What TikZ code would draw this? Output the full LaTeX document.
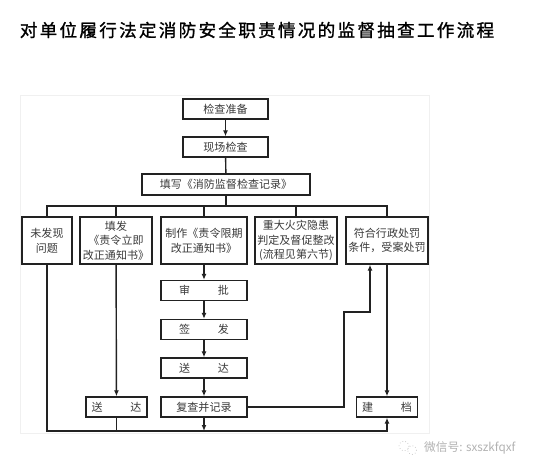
\documentclass[tikz,border=0pt]{standalone}
\usepackage{fontspec}
\usetikzlibrary{arrows.meta}
\newfontfamily\cjk{Noto Sans CJK SC}
\newfontfamily\titlefont[LetterSpace=13,FakeBold=1.2]{Noto Sans CJK SC}
\definecolor{ink}{HTML}{222222}
\definecolor{txt}{HTML}{3A3A3A}

\tikzset{
  box/.style={draw=ink,line width=1.2pt,align=center,inner sep=1pt,
    text=txt,font=\cjk\fontsize{9.4}{12.5}\selectfont},
  wide/.style={box,minimum width=2.55cm,minimum height=0.6cm},
  tall/.style={box,minimum height=1.41cm},
  line/.style={draw=ink,line width=1.2pt},
  ->/.style={line,-{Latex[length=1.8mm,width=1.5mm]}}
}

\begin{document}
\begin{tikzpicture}[x=0.03cm,y=-0.03cm]
    \useasboundingbox (0,0) rectangle (548,472);
    \fill[white] (0,0) rectangle (548,472);
    \draw[gray!12,line width=0.4pt] (20,95) rectangle (429,433);
    \node (T) at (257,30) {\titlefont\fontsize{15}{18}\selectfont 对单位履行法定消防安全职责情况的监督抽查工作流程};
    % top chain
    \node[wide] (P) at (225.5,109) {检查准备};
    \node[wide] (S) at (225.5,147) {现场检查};
    \node[box,minimum width=5.04cm,minimum height=0.63cm] (R) at (226,184.5) {填写《消防监督检查记录》};
    % five cases
    \node[tall,minimum width=1.5cm]  (N1) at (47,240.5)  {未发现\\问题};
    \node[tall,minimum width=2.16cm] (N2) at (116,240.5) {填发\\《责令立即\\改正通知书》};
    \node[tall,minimum width=2.58cm] (N3) at (204,240.5) {制作《责令限期\\改正通知书》};
    \node[tall,minimum width=2.46cm] (N4) at (296,240.5) {重大火灾隐患\\判定及督促整改\\(流程见第六节)};
    \node[tall,minimum width=2.46cm] (N5) at (387,240.5) {符合行政处罚\\条件，受案处罚};
    % middle column
    \node[wide,minimum width=2.58cm] (A) at (204,290.5) {审\hspace{2.5em}批};
    \node[wide,minimum width=2.58cm] (G) at (204,329.5) {签\hspace{2.5em}发};
    \node[wide,minimum width=2.58cm] (D) at (204,368)   {送\hspace{2.5em}达};
    \node[wide,minimum width=2.58cm] (V) at (204,407)   {复查并记录};
    \node[wide,minimum width=1.83cm] (DL) at (116.5,407) {送\hspace{2.5em}达};
    \node[wide,minimum width=1.83cm] (K) at (387,407)   {建\hspace{2.5em}档};
    \coordinate (split) at (226,206);
    \coordinate (base) at (0,431);
    \coordinate (bend) at (344,312);
    \draw [->] (P) -- (S);
    \draw [line] (S) -- (R);
    \draw [line] (R) -- (split);
    \draw [line] (N1.north) -- (N1.north |- split) -- (N5.north |- split) -- (N5.north);
    \foreach \n in {N2,N3,N4}
      \draw [line] (\n.north) -- (\n.north |- split);
    \draw [->] (N3) -- (A);
    \draw [->] (A) -- (G);
    \draw [->] (G) -- (D);
    \draw [->] (D) -- (V);
    \draw [->] (N2) -- (DL);
    \draw [->] (N5) -- (K);
    \draw [->] (V.east) -| (bend) -| ([xshift=-0.51cm]N5.south);
    \draw [->] (N1.south) -- (N1.south |- base) -- (K.south |- base) -- (K.south);
    \draw [line] (DL.south) -- (DL.south |- base);
    \draw [->] (V.south) -- (V.south |- base);
    % watermark
    \draw[gray!45,line width=0.6pt,dotted] (404,446) circle (5);
    \draw[gray!45,line width=0.6pt,dotted] (412,450) circle (4.5);
    \node[text=gray!60,font=\cjk\fontsize{10}{12}\selectfont,anchor=west] (W) at (420,448) {微信号: sxszkfqxf};
\end{tikzpicture}
\end{document}
